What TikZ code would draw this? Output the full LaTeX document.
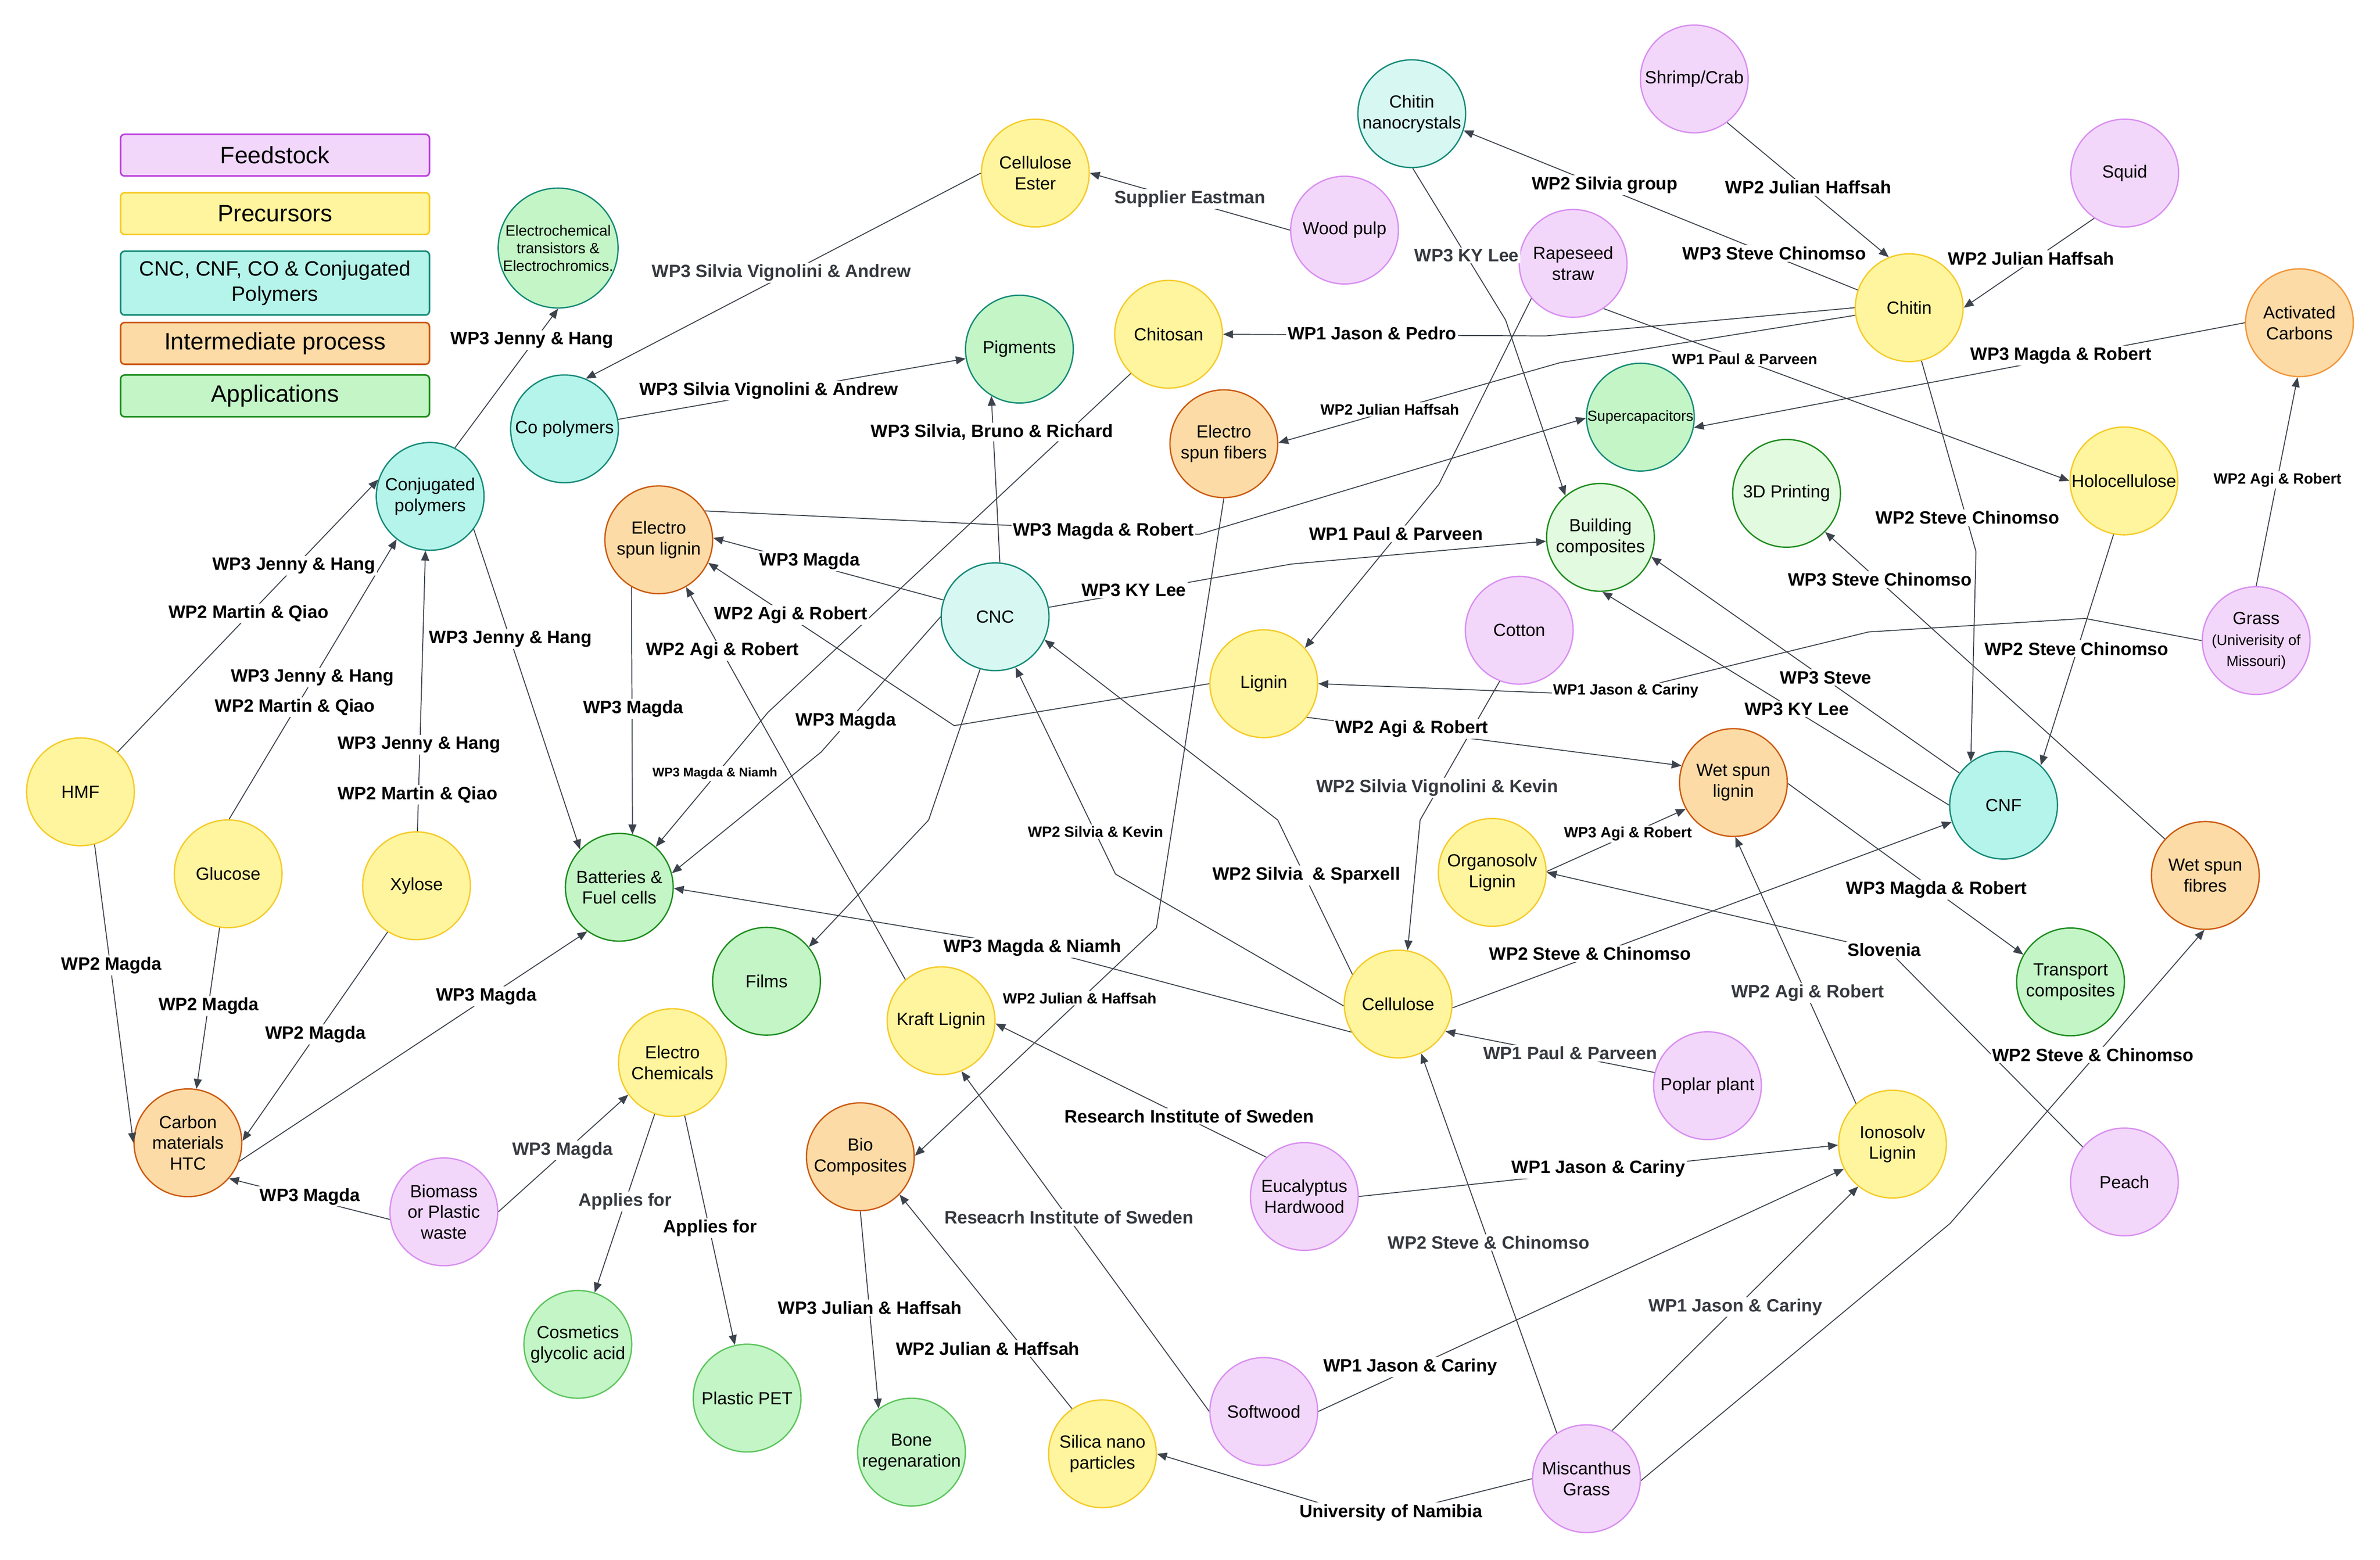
\documentclass[tikz,border=0pt]{standalone}
\usepackage{fontspec}
\setmainfont{Liberation Sans}
\usetikzlibrary{arrows.meta}
\definecolor{feedF}{HTML}{F2D7FB}
\definecolor{feedB}{HTML}{D98FF0}
\definecolor{feedL}{HTML}{BC3EE0}
\definecolor{precF}{HTML}{FFF59E}
\definecolor{precB}{HTML}{F5CB2A}
\definecolor{tealF}{HTML}{B5F4EA}
\definecolor{tealL}{HTML}{D7F8F2}
\definecolor{tealB}{HTML}{168A78}
\definecolor{oranF}{HTML}{FCDBA6}
\definecolor{oranB}{HTML}{CC5A10}
\definecolor{oranBB}{HTML}{F2963A}
\definecolor{grenF}{HTML}{C3F5C6}
\definecolor{grenL}{HTML}{E2FADF}
\definecolor{grenB}{HTML}{1E8C1E}
\definecolor{grenBB}{HTML}{5EC45E}
\definecolor{lineC}{HTML}{3C434C}
\definecolor{grayT}{HTML}{36393F}
\begin{document}
\begin{tikzpicture}[x=0.02cm,y=-0.02cm,
  nd/.style={circle,draw,line width=0.5pt,minimum size=1.42cm,inner sep=0pt,align=center,font=\fontsize{6.6}{7.8}\selectfont},
  sfeed/.style={nd,fill=feedF,draw=feedB},
  sprec/.style={nd,fill=precF,draw=precB},
  steal/.style={nd,fill=tealF,draw=tealB},
  steall/.style={nd,fill=tealL,draw=tealB},
  sinter/.style={nd,fill=oranF,draw=oranB},
  sapp/.style={nd,fill=grenF,draw=grenB},
  sappt/.style={nd,fill=grenF,draw=tealB},
  sappl/.style={nd,fill=grenL,draw=grenB},
  sappg/.style={nd,fill=grenF,draw=grenBB},
  leg/.style={draw,line width=0.6pt,rounded corners=1.5pt,minimum width=4.07cm,align=center,font=\fontsize{8.9}{10.6}\selectfont,inner sep=0pt},
  con/.style={draw=lineC,line width=0.35pt,-{Triangle[length=1.3mm,width=1.05mm]}},
  lbl/.style={fill=white,inner sep=0.6pt,font=\fontsize{6.7}{7.5}\selectfont\bfseries,text=black},
  lblg/.style={lbl,text=grayT},
  lbls/.style={lbl,font=\fontsize{5.6}{6.5}\selectfont\bfseries},
  lblxs/.style={lbl,font=\fontsize{4.7}{5.5}\selectfont\bfseries}
]
\useasboundingbox[fill=white] (0,0) rectangle (1568,1027.56);

% legend
\node[leg,fill=feedF,draw=feedL,minimum height=0.55cm] (lg1) at (181.2,102.2) {Feedstock};
\node[leg,fill=precF,draw=precB,minimum height=0.55cm] (lg2) at (181.2,140.7) {Precursors};
\node[leg,fill=tealF,draw=tealB,minimum height=0.84cm,font=\fontsize{7.8}{9.4}\selectfont] (lg3) at (181.2,186.5) {CNC, CNF, CO \& Conjugated\\Polymers};
\node[leg,fill=oranF,draw=oranB,minimum height=0.55cm] (lg4) at (181.2,226.2) {Intermediate process};
\node[leg,fill=grenF,draw=grenB,minimum height=0.55cm] (lg5) at (181.2,260.8) {Applications};

% nodes
\node[sappt,minimum size=1.58cm,font=\fontsize{5.6}{6.65}\selectfont] (ec) at (367.7,163.4) {Electrochemical\\transistors \&\\Electrochromics.};
\node[steal] (copoly) at (371.9,282.5) {Co polymers};
\node[steal] (conj) at (283.4,327) {Conjugated\\polymers};
\node[sprec] (cest) at (682.1,114) {Cellulose\\Ester};
\node[sappt] (pig) at (671.6,230) {Pigments};
\node[sprec] (chitosan) at (769.9,220.2) {Chitosan};
\node[steall] (cncx) at (930.1,74.9) {Chitin\\nanocrystals};
\node[sfeed] (shrimp) at (1116.2,52) {Shrimp/Crab};
\node[sfeed] (wood) at (885.8,151.6) {Wood pulp};
\node[sfeed] (rape) at (1036.4,173.5) {Rapeseed\\straw};
\node[sappt,font=\fontsize{5.5}{6.5}\selectfont] (super) at (1080.7,274.8) {Supercapacitors};
\node[sinter] (esf) at (806.3,292.3) {Electro\\spun fibers};
\node[sappl] (build) at (1054.4,354) {Building\\composites};
\node[sappl] (print) at (1177,325) {3D Printing};
\node[sfeed] (squid) at (1399.8,114) {Squid};
\node[sprec] (chitin) at (1257.8,202.7) {Chitin};
\node[sinter,draw=oranBB] (actc) at (1514.9,212.6) {Activated\\Carbons};
\node[sprec] (holo) at (1399.3,316.8) {Holocellulose};
\node[sprec] (hmf) at (53,521.6) {HMF};
\node[sprec] (glucose) at (150.3,575.6) {Glucose};
\node[sprec] (xylose) at (274.4,583.5) {Xylose};
\node[sapp] (batt) at (408,584.5) {Batteries \&\\Fuel cells};
\node[sinter] (esl) at (434,355.6) {Electro\\spun lignin};
\node[steall] (cnc) at (655.6,406.3) {CNC};
\node[sapp] (films) at (505,646.4) {Films};
\node[sprec] (kraft) at (620,672.4) {Kraft Lignin};
\node[sprec] (lignin) at (832.6,450.4) {Lignin};
\node[sfeed] (cotton) at (1000.9,415.2) {Cotton};
\node[sinter] (wsl) at (1142,515.5) {Wet spun\\lignin};
\node[sprec] (organo) at (983.1,574.7) {Organosolv\\Lignin};
\node[sprec] (cellulose) at (921.1,661.4) {Cellulose};
\node[sfeed] (grass) at (1486.4,422) {Grass\\{\fontsize{5.5}{6.6}\selectfont (Univerisity of}\\{\fontsize{5.5}{6.6}\selectfont Missouri)}};
\node[steal] (cnf) at (1320,530.4) {CNF};
\node[sinter] (wsf) at (1452.9,576.7) {Wet spun\\fibres};
\node[sapp] (transport) at (1364.1,646.8) {Transport\\composites};
\node[sinter] (htc) at (123.8,752.8) {Carbon\\materials\\HTC};
\node[sfeed] (biomass) at (292.4,798.3) {Biomass\\or Plastic\\waste};
\node[sappg] (cosm) at (380.7,885.6) {Cosmetics\\glycolic acid};
\node[sprec] (echem) at (443,700) {Electro\\Chemicals};
\node[sinter] (bio) at (566.8,762) {Bio\\Composites};
\node[sappg] (pet) at (492.2,921) {Plastic PET};
\node[sappg] (bone) at (600.5,956.6) {Bone\\regenaration};
\node[sprec] (silica) at (726.3,957.7) {Silica nano\\particles};
\node[sfeed] (poplar) at (1124.9,715.2) {Poplar plant};
\node[sfeed] (euc) at (859.3,788.2) {Eucalyptus\\Hardwood};
\node[sfeed] (soft) at (832.6,929.8) {Softwood};
\node[sfeed] (misc) at (1045.2,974.1) {Miscanthus\\Grass};
\node[sprec] (iono) at (1246.8,753.7) {Ionosolv\\Lignin};
\node[sfeed] (peach) at (1399.6,778.6) {Peach};

% connectors
\draw[con] (hmf.47) -- (conj.162);
\draw[con] (glucose.89) -- (conj.232);
\draw[con] (xylose.89) -- (conj.265);
\draw[con] (conj.63) -- (ec.270);
\draw[con] (conj.-37) -- (batt.136);
\draw[con] (cest.180) -- (copoly.67);
\draw[con] (wood.180) -- (cest.0);
\draw[con] (copoly.10) -- (pig.190);
\draw[con] (cnc.85) -- (pig.239);
\draw[con] (chitosan.226) -- (506,469.2) -- (batt.48);
\draw[con] (cnc.162) -- (esl.2);
\draw[con] (esl.240) -- (batt.76);
\draw[con] (cnc.180) -- (541,495.4) -- (batt.15);
\draw[con] (lignin.180) -- (628.6,478) -- (esl.-25);
\draw[con] (kraft.131) -- (esl.-60);
\draw[con] (esl.32) -- (790,352) -- (super.181);
\draw[con] (actc.180) -- (super.-11);
\draw[con] (grass.90) -- (actc.268);
\draw[con] (shrimp.-53) -- (chitin.112);
\draw[con] (squid.236) -- (chitin.0);
\draw[con] (chitin.161) -- (cncx.-18);
\draw[con] (chitin.180) -- (1018.2,221.3) -- (chitosan.0);
\draw[con] (chitin.188) -- (1028.2,238.8) -- (esf.1);
\draw[con] (chitin.283) -- (1301.8,363.3) -- (cnf.127);
\draw[con] (holo.259) -- (cnf.47);
\draw[con] (rape.-56) -- (holo.180);
\draw[con] (rape.220) -- (948,319) -- (lignin.41);
\draw[con] (cncx.271) -- (991.9,210.8) -- (build.130);
\draw[con] (cnc.10) -- (850.6,371.6) -- (build.184);
\draw[con] (cnf.144) -- (build.-21);
\draw[con] (cnf.180) -- (build.-88);
\draw[con] (wsf.138) -- (print.-45);
\draw[con] (grass.180) -- (1373.6,407.4) -- (1231,416.3) -- (1060,458) -- (lignin.0);
\draw[con] (lignin.-38) -- (wsl.162);
\draw[con] (cotton.249) -- (935.6,540.2) -- (cellulose.80);
\draw[con] (cellulose.147) -- (841.8,540.2) -- (cnc.-25);
\draw[con] (cellulose.182) -- (734.9,575.8) -- (cnc.-68);
\draw[con] (cellulose.211) -- (684,625) -- (batt.-1);
\draw[con] (cellulose.-4) -- (cnf.198);
\draw[con] (poplar.166) -- (cellulose.-30);
\draw[con] (misc.123) -- (cellulose.-65);
\draw[con] (misc.62) -- (iono.231);
\draw[con] (misc.-2) -- (1284.8,805.9) -- (wsf.269);
\draw[con] (peach.140) -- (1245,627) -- (organo.0);
\draw[con] (wsl.-1) -- (transport.150);
\draw[con] (organo.1) -- (wsl.209);
\draw[con] (iono.132) -- (wsl.-88);
\draw[con] (euc.0) -- (iono.181);
\draw[con] (soft.0) -- (iono.207);
\draw[con] (euc.134) -- (kraft.-3);
\draw[con] (soft.180) -- (kraft.-68);
\draw[con] (misc.180) -- (903.6,1000.5) -- (silica.0);
\draw[con] (silica.124) -- (bio.-44);
\draw[con] (bio.270) -- (bone.127);
\draw[con] (esf.270) -- (761.9,611.2) -- (bio.1);
\draw[con] (echem.251) -- (cosm.72);
\draw[con] (echem.283) -- (pet.103);
\draw[con] (biomass.0) -- (echem.216);
\draw[con] (biomass.188) -- (htc.-41);
\draw[con] (hmf.285) -- (htc.180);
\draw[con] (glucose.261) -- (htc.81);
\draw[con] (xylose.238) -- (htc.2);
\draw[con] (htc.-20) -- (batt.234);
\draw[con] (cnc.254) -- (611.8,540.2) -- (films.39);

% labels
\node[lbl] (l1) at (193.6,372.6) {WP3 Jenny \& Hang};
\node[lbl] (l2) at (163.8,404.1) {WP2 Martin \& Qiao};
\node[lbl] (l3) at (205.8,446.3) {WP3 Jenny \& Hang};
\node[lbl] (l4) at (194.3,465.9) {WP2 Martin \& Qiao};
\node[lbl] (l5) at (276.1,490.6) {WP3 Jenny \& Hang};
\node[lbl] (l6) at (275.1,523.6) {WP2 Martin \& Qiao};
\node[lbl] (l7) at (350.5,224) {WP3 Jenny \& Hang};
\node[lbl] (l8) at (336.4,421.1) {WP3 Jenny \& Hang};
\node[lblg] (l9) at (514.8,179.6) {WP3 Silvia Vignolini \& Andrew};
\node[lblg] (l10) at (784,131) {Supplier Eastman};
\node[lbl] (l11) at (506.5,257.3) {WP3 Silvia Vignolini \& Andrew};
\node[lbl] (l12) at (653.6,284.6) {WP3 Silvia, Bruno \& Richard};
\node[lblxs] (l13) at (471,509.6) {WP3 Magda \& Niamh};
\node[lbl] (l14) at (533.5,369.8) {WP3 Magda};
\node[lbl] (l15) at (417.2,467) {WP3 Magda};
\node[lbl] (l16) at (557.3,475.1) {WP3 Magda};
\node[lbl] (l17) at (521,405.2) {WP2 Agi \& Robert};
\node[lbl] (l18) at (476,428.8) {WP2 Agi \& Robert};
\node[lbl] (l19) at (727,350) {WP3 Magda \& Robert};
\node[lbl] (l20) at (1357.8,234.2) {WP3 Magda \& Robert};
\node[lbls] (l21) at (1500.4,316.1) {WP2 Agi \& Robert};
\node[lbl] (l22) at (1191.3,123.4) {WP2 Julian Haffsah};
\node[lbl] (l23) at (1338.1,170.4) {WP2 Julian Haffsah};
\node[lbl] (l24) at (1057.3,121.9) {WP2 Silvia group};
\node[lbl] (l25) at (1169,167) {WP3 Steve Chinomso};
\node[lbl] (l26) at (903.9,219.5) {WP1 Jason \& Pedro};
\node[lbls] (l27) at (915.6,269.8) {WP2 Julian Haffsah};
\node[lbl] (l28) at (1296.3,341) {WP2 Steve Chinomso};
\node[lbl] (l29) at (1368,427.3) {WP2 Steve Chinomso};
\node[lbls] (l30) at (1149.4,236.4) {WP1 Paul \& Parveen};
\node[lbl] (l31) at (919.8,351.7) {WP1 Paul \& Parveen};
\node[lblg] (l32) at (966.3,168.2) {WP3 KY Lee};
\node[lbl] (l33) at (747.1,388.8) {WP3 KY Lee};
\node[lbl] (l34) at (1202.9,446.3) {WP3 Steve};
\node[lbl] (l35) at (1183.7,467) {WP3 KY Lee};
\node[lbl] (l36) at (1238.5,381.8) {WP3 Steve Chinomso};
\node[lbls] (l37) at (1071.1,455.2) {WP1 Jason \& Cariny};
\node[lbl] (l38) at (930,480.1) {WP2 Agi \& Robert};
\node[lblg] (l39) at (946.8,519) {WP2 Silvia Vignolini \& Kevin};
\node[lbl] (l40) at (860.6,576.7) {WP2 Silvia~ \& Sparxell};
\node[lbls] (l41) at (721.7,547.8) {WP2 Silvia \& Kevin};
\node[lbl] (l42) at (680.2,624.3) {WP3 Magda \& Niamh};
\node[lbl] (l43) at (1047.6,628.3) {WP2 Steve \& Chinomso};
\node[lblg] (l44) at (1034.5,693.8) {WP1 Paul \& Parveen};
\node[lblg] (l45) at (980.7,818.4) {WP2 Steve \& Chinomso};
\node[lblg] (l46) at (1143.3,861) {WP1 Jason \& Cariny};
\node[lbl] (l47) at (1053.1,769.9) {WP1 Jason \& Cariny};
\node[lbl] (l48) at (929.1,900.7) {WP1 Jason \& Cariny};
\node[lbl] (l49) at (1241.3,625.8) {Slovenia};
\node[lbl] (l50) at (1378.9,694.9) {WP2 Steve \& Chinomso};
\node[lbl] (l51) at (1275.9,586.1) {WP3 Magda \& Robert};
\node[lbls] (l52) at (1072.5,549.4) {WP3 Agi \& Robert};
\node[lblg] (l53) at (1191,654.2) {WP2 Agi \& Robert};
\node[lbl] (l54) at (783.5,735.3) {Research Institute of Sweden};
\node[lblg] (l55) at (704.3,802) {Reseacrh Institute of Sweden};
\node[lbl] (l56) at (916.4,996.4) {University of Namibia};
\node[lbl] (l57) at (650.7,888.3) {WP2 Julian \& Haffsah};
\node[lbl] (l58) at (573.2,861.4) {WP3 Julian \& Haffsah};
\node[lbls] (l59) at (711.3,657.7) {WP2 Julian \& Haffsah};
\node[lblg] (l60) at (411.9,791.5) {Applies for};
\node[lbl] (l61) at (467.8,809) {Applies for};
\node[lblg] (l62) at (370.6,757.8) {WP3 Magda};
\node[lbl] (l63) at (204.2,788.2) {WP3 Magda};
\node[lbl] (l64) at (73.4,635.9) {WP2 Magda};
\node[lbl] (l65) at (137.5,662.5) {WP2 Magda};
\node[lbl] (l66) at (207.8,681.5) {WP2 Magda};
\node[lbl] (l67) at (320.4,656.4) {WP3 Magda};
\end{tikzpicture}
\end{document}
